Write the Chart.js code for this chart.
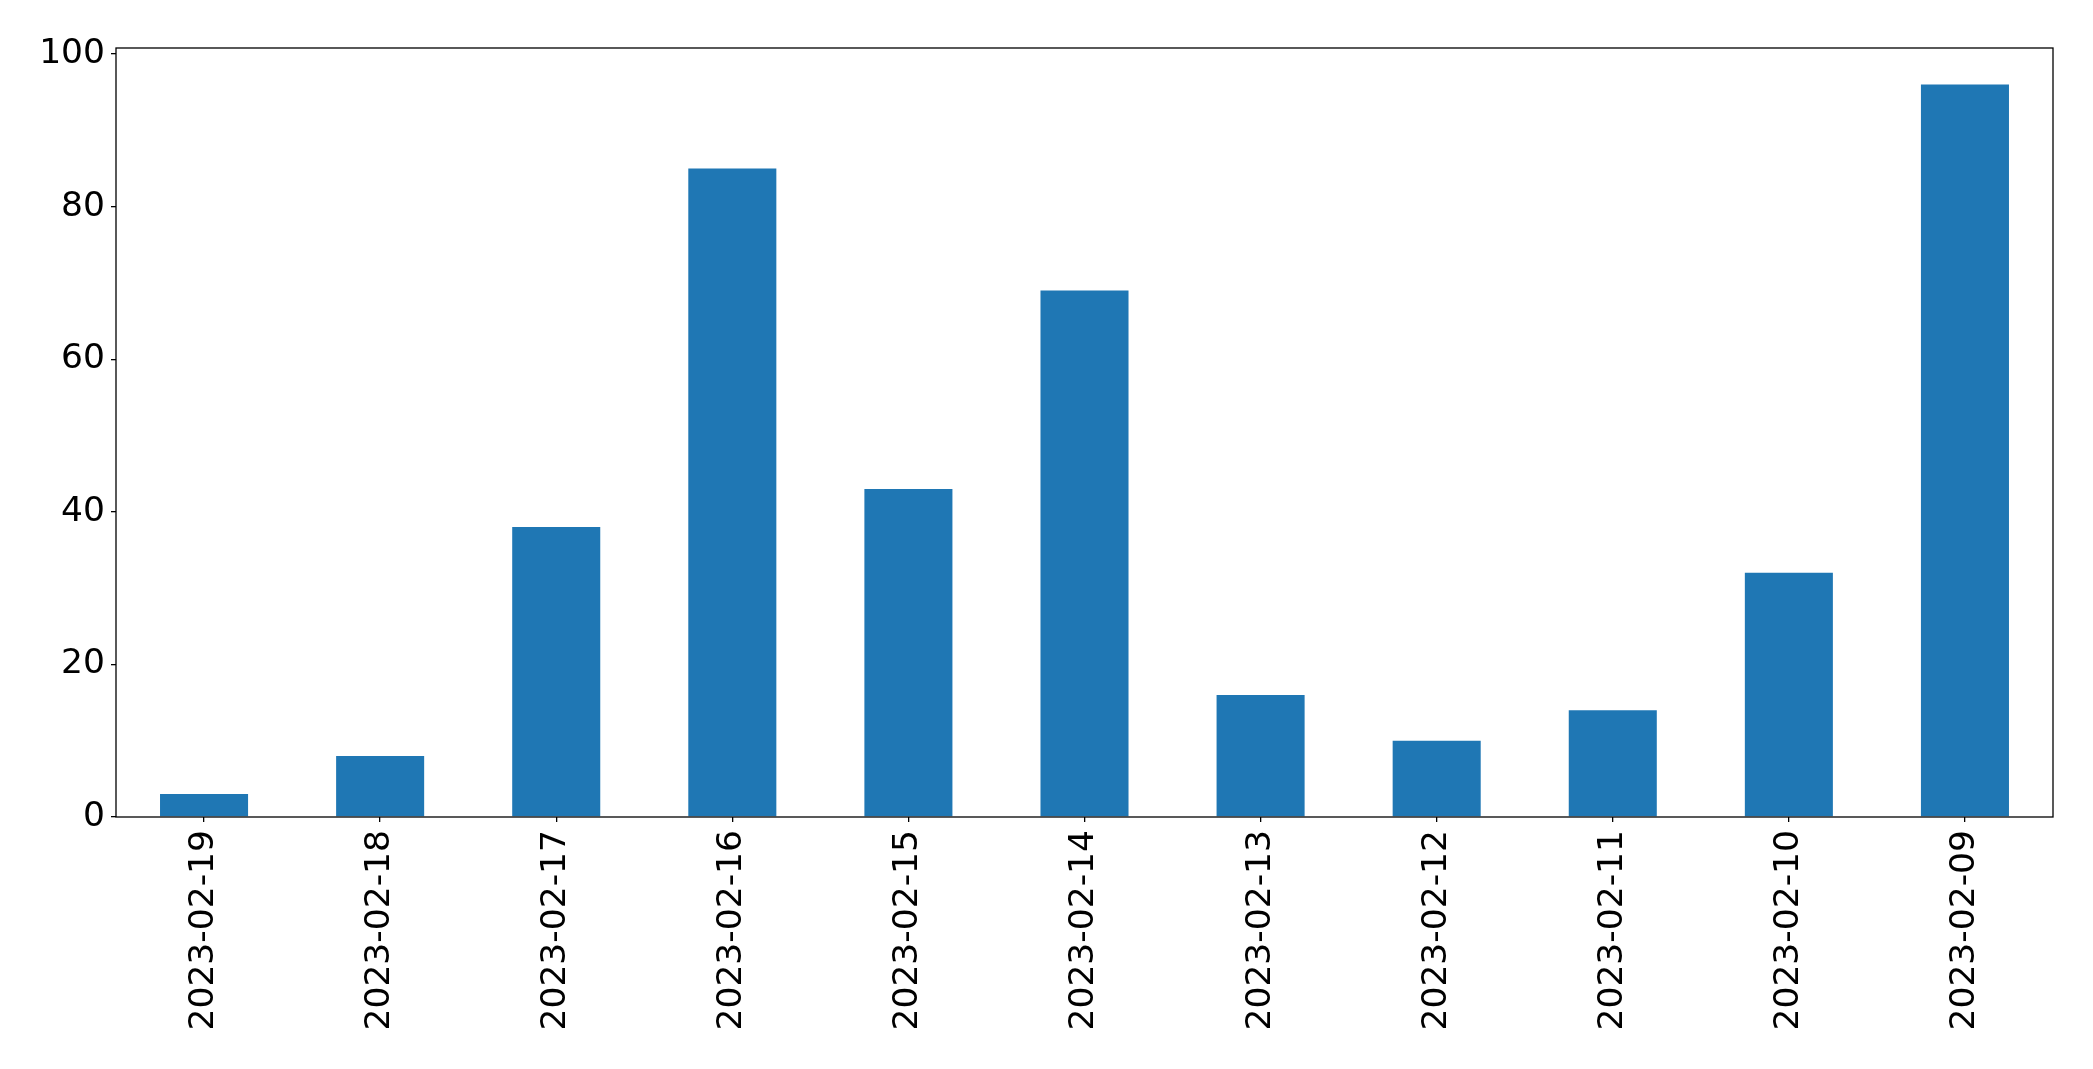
<!DOCTYPE html>
<html>
<head>
<meta charset="utf-8">
<script src="https://cdn.jsdelivr.net/npm/chart.js@4/dist/chart.umd.min.js"></script>
<style>
  html, body { margin: 0; padding: 0; background: #fff; }
  #wrap { width: 2093px; height: 1069px; position: relative; }
</style>
</head>
<body>
<div id="wrap"><canvas id="c" width="2093" height="1069"></canvas></div>
<script>
const categories = ["2023-02-19","2023-02-18","2023-02-17","2023-02-16","2023-02-15","2023-02-14","2023-02-13","2023-02-12","2023-02-11","2023-02-10","2023-02-09"];
const values = [3, 8, 38, 85, 43, 69, 16, 10, 14, 32, 96];
const yTicks = [0, 20, 40, 60, 80, 100];
const yMax = 100.8;

const frame = {
  id: 'frame',
  afterDatasetsDraw(chart) {
    const a = chart.chartArea, ctx = chart.ctx;
    ctx.save();
    ctx.strokeStyle = '#000';
    ctx.lineWidth = 1.3;
    ctx.strokeRect(a.left, a.top, a.right - a.left, a.bottom - a.top);
    ctx.restore();
  }
};

Chart.defaults.font.family = "'DejaVu Sans', sans-serif";
Chart.defaults.color = '#000';

new Chart(document.getElementById('c'), {
  type: 'bar',
  data: {
    labels: categories,
    datasets: [{
      data: values,
      backgroundColor: '#1f77b4',
      borderWidth: 0,
      barPercentage: 0.5,
      categoryPercentage: 1.0
    }]
  },
  options: {
    responsive: false,
    animation: false,
    events: [],
    layout: { padding: { top: 48, right: 40, left: 0, bottom: 0 } },
    plugins: { legend: { display: false }, tooltip: { enabled: false } },
    scales: {
      x: {
        offset: true,
        border: { display: false },
        grid: { display: true, offset: false, drawOnChartArea: false, tickLength: 5, tickColor: '#000', lineWidth: 1.3 },
        ticks: { minRotation: 90, maxRotation: 90, autoSkip: false, padding: 8, font: { size: 34.5 }, color: '#000' },
        afterFit(s) { s.height = 252; }
      },
      y: {
        min: 0,
        max: yMax,
        border: { display: false },
        grid: { display: true, drawOnChartArea: false, tickLength: 5, tickColor: '#000', lineWidth: 1.3 },
        ticks: { padding: 6, font: { size: 34.5 }, color: '#000' },
        afterBuildTicks(s) { s.ticks = yTicks.map(v => ({ value: v })); },
        afterFit(s) { s.width = 116; }
      }
    }
  },
  plugins: [frame]
});
</script>
</body>
</html>
